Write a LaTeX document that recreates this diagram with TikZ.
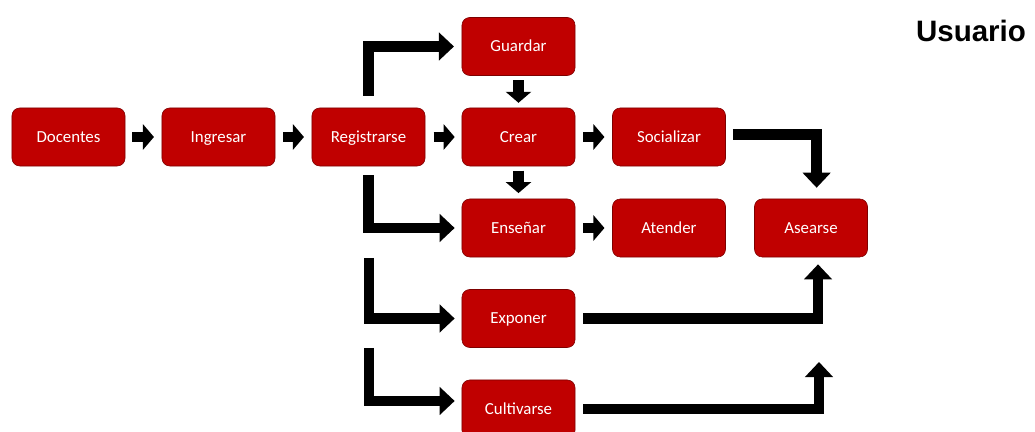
\documentclass[tikz,border=0pt]{standalone}
\usepackage{fontspec}
\setmainfont{Carlito}
\newfontfamily\titlefont{Liberation Sans}
\usetikzlibrary{arrows.meta}
\definecolor{boxred}{RGB}{192, 0, 0}

\begin{document}
\begin{tikzpicture}[x=0.025cm, y=-0.025cm,
    paso/.style={rectangle, rounded corners=5.5pt, draw=boxred!65!black, thin, fill=boxred, text=white,
        minimum width=2.825cm, minimum height=1.45cm, text height=7.7pt, text depth=0pt,
        font=\fontsize{12}{14}\selectfont},
    flechita/.style={-{Triangle[length=0.275cm, width=0.625cm]}, line width=0.27cm, black},
    flecha/.style={-{Triangle[length=0.375cm, width=0.68cm]}, line width=0.27cm, line join=miter, black}]
    \useasboundingbox (0, 0) rectangle (1035, 432);

    % Title
    \node (usuario) at (971, 31) [font=\titlefont\fontsize{21}{25}\selectfont\bfseries] {Usuario};

    % Boxes
    \node[paso] (docentes) at (68.5, 137) {Docentes};
    \node[paso] (ingresar) at (218.5, 137) {Ingresar};
    \node[paso] (registrarse) at (368.5, 137) {Registrarse};
    \node[paso] (guardar) at (518.5, 46.5) {Guardar};
    \node[paso] (crear) at (518.5, 137) {Crear};
    \node[paso] (socializar) at (669, 137) {Socializar};
    \node[paso] (ensenar) at (518.5, 228) {Enseñar};
    \node[paso] (atender) at (669, 228) {Atender};
    \node[paso] (asearse) at (811, 228) {Asearse};
    \node[paso] (exponer) at (518.5, 318.5) {Exponer};
    \node[paso] (cultivarse) at (518.5, 409) {Cultivarse};

    % Short arrows
    \draw[flechita, shorten <=5pt, shorten >=5.5pt] (docentes) -- (ingresar);
    \draw[flechita, shorten <=5.5pt, shorten >=5.5pt] (ingresar) -- (registrarse);
    \draw[flechita, shorten <=6pt, shorten >=5pt] (registrarse) -- (crear);
    \draw[flechita, shorten <=5.5pt, shorten >=5.5pt] (crear) -- (socializar);
    \draw[flechita, shorten <=5.5pt, shorten >=5.5pt] (ensenar) -- (atender);
    \draw[flechita, shorten <=3pt, shorten >=3.5pt] (guardar) -- (crear);
    \draw[flechita, shorten <=3pt, shorten >=4pt] (crear) -- (ensenar);

    % Bent arrows out of Registrarse
    \coordinate (salida1) at (369, 258);
    \coordinate (salida2) at (369, 348);
    \draw[flecha, shorten <=8.5pt, shorten >=5.5pt] (registrarse.north) |- (guardar.west);
    \draw[flecha, shorten <=6.5pt, shorten >=5pt] (registrarse.south) |- (ensenar.west);
    \draw[flecha, shorten >=5pt] (salida1) |- (exponer.west);
    \draw[flecha, shorten >=5pt] (salida2) |- ([yshift=5.7pt]cultivarse.west);

    % Bent arrows into Asearse
    \coordinate (llegada) at (819, 362);
    \draw[flecha, shorten <=5pt, shorten >=7.8pt] ([yshift=2pt]socializar.east) -| ([xshift=4pt]asearse.north);
    \draw[flecha, shorten <=5.7pt, shorten >=5pt] (exponer.east) -| ([xshift=5pt]asearse.south);
    \draw[flecha, shorten <=5.7pt] (cultivarse.east) -| (llegada);
\end{tikzpicture}
\end{document}
